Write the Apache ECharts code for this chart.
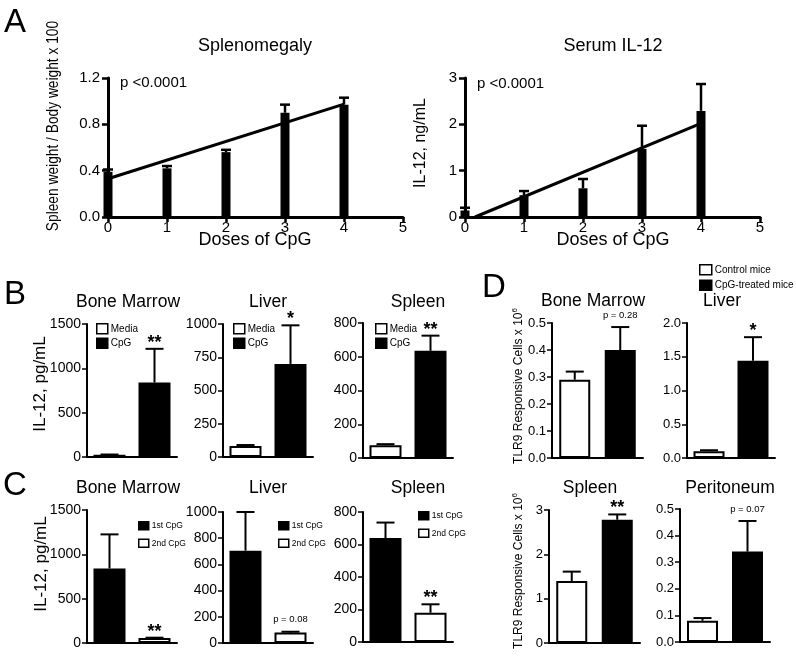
<!DOCTYPE html>
<html><head><meta charset="utf-8">
<script src="https://cdn.jsdelivr.net/npm/echarts@6/dist/echarts.min.js"></script>
<style>html,body{margin:0;padding:0;background:#fff}#c{width:796px;height:660px}</style>
</head><body><div id="c"></div>
<script>
// ---------------- data ----------------
const doses = [0, 1, 2, 3, 4];
const doseTicks = [0, 1, 2, 3, 4, 5];
const splenoMean = [0.39, 0.42, 0.56, 0.90, 0.97];
const splenoErr  = [0.41, 0.44, 0.58, 0.97, 1.03];
const splenoFit  = [[0, 0.33], [4, 0.975]];
const serumMean  = [0.14, 0.47, 0.62, 1.47, 2.29];
const serumErr   = [0.20, 0.56, 0.82, 1.97, 2.87];
const serumFit   = [[0.17, 0], [4, 2.02]];

const bGroups = ['Media', 'CpG'];
const bBoneMarrow = [25, 840],  bBoneMarrowErr = [28, 1220], bBoneMarrowNote = ['', '**'];
const bLiver      = [83, 700],  bLiverErr      = [90, 990],  bLiverNote      = ['', '*'];
const bSpleen     = [75, 635],  bSpleenErr     = [82, 725],  bSpleenNote     = ['', '**'];

const cGroups = ['1st CpG', '2nd CpG'];
const cBoneMarrow = [840, 55],  cBoneMarrowErr = [1225, 60], cBoneMarrowNote = ['', '**'];
const cLiver      = [705, 80],  cLiverErr      = [1000, 86], cLiverNote      = ['', 'p = 0.08'];
const cSpleen     = [640, 180], cSpleenErr     = [735, 232], cSpleenNote     = ['', '**'];

const dGroups = ['Control mice', 'CpG-treated mice'];
const dBoneMarrow = [0.29, 0.40], dBoneMarrowErr = [0.32, 0.485], dBoneMarrowNote = ['', 'p = 0.28'];
const dLiver      = [0.10, 1.44], dLiverErr      = [0.115, 1.79], dLiverNote      = ['', '*'];
const dSpleen     = [1.40, 2.78], dSpleenErr     = [1.61, 2.90],  dSpleenNote     = ['', '**'];
const dPerit      = [0.08, 0.34], dPeritErr      = [0.09, 0.455], dPeritNote      = ['', 'p = 0.07'];

// ---------------- layout / styles ----------------
const FONT = 'Liberation Sans, Arial, Helvetica, sans-serif';
const W = '#ffffff', K = '#000000';

const grid = [], xAxis = [], yAxis = [], series = [], legend = [];

function bigPanel(left, top, max, interval, dec, mean, err, fit) {
  const gi = grid.length;
  grid.push({left: left, top: top, width: 295, height: 139, containLabel: false});
  xAxis.push({gridIndex: gi, type: 'value', min: 0, max: 5, interval: 1,
    axisLine: {onZero: false, lineStyle: {color: K, width: 3}},
    axisTick: {length: 5, lineStyle: {color: K, width: 2.5}},
    axisLabel: {color: K, fontSize: 15, margin: 3, fontFamily: FONT},
    splitLine: {show: false}});
  yAxis.push({gridIndex: gi, type: 'value', min: 0, max: max, interval: interval,
    axisLine: {show: true, onZero: false, lineStyle: {color: K, width: 3}},
    axisTick: {show: true, length: 6, lineStyle: {color: K, width: 2.5}},
    axisLabel: {color: K, fontSize: 15, margin: 8, fontFamily: FONT,
      formatter: v => v.toFixed(dec)},
    splitLine: {show: false}});
  series.push({type: 'custom', xAxisIndex: gi, yAxisIndex: gi, z: 3,
    data: doses.map((d, i) => [d, mean[i], err[i]]),
    encode: {x: 0, y: [1, 2]},
    renderItem: function (params, api) {
      const x = api.value(0);
      const p0 = api.coord([x, 0]);
      const p1 = api.coord([x, api.value(1)]);
      const pe = api.coord([x, api.value(2)]);
      return {type: 'group', children: [
        {type: 'rect', shape: {x: p0[0] - 4.5, y: p1[1], width: 9, height: p0[1] - p1[1]}, style: {fill: K}},
        {type: 'line', shape: {x1: p1[0], y1: p1[1], x2: pe[0], y2: pe[1]}, style: {stroke: K, lineWidth: 2.5}},
        {type: 'line', shape: {x1: pe[0] - 5, y1: pe[1], x2: pe[0] + 5, y2: pe[1]}, style: {stroke: K, lineWidth: 2.5}}
      ]};
    }});
  series.push({type: 'line', xAxisIndex: gi, yAxisIndex: gi, data: fit, z: 4,
    showSymbol: false, symbol: 'none', lineStyle: {color: K, width: 3}});
}

function smallPanel(p) {
  const gi = grid.length;
  grid.push({left: p.left, top: p.top, width: p.width, height: p.height, containLabel: false});
  xAxis.push({gridIndex: gi, type: 'category', data: p.groups, boundaryGap: true,
    axisLine: {lineStyle: {color: K, width: 2}},
    axisTick: {alignWithLabel: true, length: 5, lineStyle: {color: K, width: 1.5}},
    axisLabel: {show: false}});
  yAxis.push({gridIndex: gi, type: 'value', min: 0, max: p.max, interval: p.interval,
    axisLine: {show: true, lineStyle: {color: K, width: 2}},
    axisTick: {show: true, length: 5, lineStyle: {color: K, width: 1.5}},
    axisLabel: {color: K, fontSize: p.fs, margin: 6, fontFamily: FONT,
      formatter: v => v.toFixed(p.dec)},
    splitLine: {show: false}});
  p.groups.forEach((g, i) => {
    series.push({type: 'bar', name: g, xAxisIndex: gi, yAxisIndex: gi,
      data: p.vals.map((v, j) => j === i ? v : '-'),
      barWidth: p.barW, barGap: '-100%',
      itemStyle: {color: p.fills[i], borderColor: K, borderWidth: 2}});
  });
  const notes = p.notes;
  series.push({type: 'custom', xAxisIndex: gi, yAxisIndex: gi, z: 5,
    data: p.vals.map((v, j) => [j, v, p.errs[j]]),
    encode: {x: 0, y: [1, 2]},
    renderItem: function (params, api) {
      const x = api.value(0);
      const p1 = api.coord([x, api.value(1)]);
      const pe = api.coord([x, api.value(2)]);
      const ch = [
        {type: 'line', shape: {x1: p1[0], y1: p1[1], x2: pe[0], y2: pe[1]}, style: {stroke: K, lineWidth: 2}},
        {type: 'line', shape: {x1: pe[0] - 9, y1: pe[1], x2: pe[0] + 9, y2: pe[1]}, style: {stroke: K, lineWidth: 2}}
      ];
      const note = notes[params.dataIndex];
      if (note) {
        const star = note.charAt(0) === '*';
        ch.push({type: 'text', x: pe[0], y: pe[1] - (star ? 6 : 12),
          style: {text: note, fill: K, fontFamily: FONT,
            fontSize: star ? 18 : 9.5, fontWeight: star ? 'bold' : 'normal',
            align: 'center', verticalAlign: 'middle'}});
      }
      return {type: 'group', children: ch};
    }});
  if (p.legend) {
    legend.push({left: p.legend[0], top: p.legend[1], orient: 'vertical', padding: 0,
      itemWidth: p.legW, itemHeight: p.legH, itemGap: p.legGap, selectedMode: false,
      textStyle: {color: K, fontSize: p.legFs, fontFamily: FONT, padding: [0, 0, 0, -2]},
      data: p.groups.map((g, i) => ({name: g, icon: 'rect',
        itemStyle: {color: p.fills[i], borderColor: K, borderWidth: 1.5}}))});
  }
}

bigPanel(108, 78, 1.2, 0.4, 1, splenoMean, splenoErr, splenoFit);
bigPanel(465, 78, 3, 1, 0, serumMean, serumErr, serumFit);

const bFill = [W, K], cFill = [K, W], dFill = [W, K];
const bLeg = {legW: 11, legH: 10, legGap: 3, legFs: 10};
const cLeg = {legW: 10, legH: 8, legGap: 8, legFs: 8.5};

smallPanel(Object.assign({left: 87, top: 324, width: 90, height: 133, max: 1500, interval: 500, dec: 0, fs: 14, barW: 32,
  groups: bGroups, vals: bBoneMarrow, errs: bBoneMarrowErr, notes: bBoneMarrowNote, fills: bFill, legend: [96, 323]}, bLeg));
smallPanel(Object.assign({left: 223, top: 324, width: 90, height: 133, max: 1000, interval: 250, dec: 0, fs: 14, barW: 32,
  groups: bGroups, vals: bLiver, errs: bLiverErr, notes: bLiverNote, fills: bFill, legend: [233, 323]}, bLeg));
smallPanel(Object.assign({left: 363, top: 323, width: 90, height: 135, max: 800, interval: 200, dec: 0, fs: 14, barW: 32,
  groups: bGroups, vals: bSpleen, errs: bSpleenErr, notes: bSpleenNote, fills: bFill, legend: [375, 323]}, bLeg));

smallPanel(Object.assign({left: 87, top: 510, width: 90, height: 133, max: 1500, interval: 500, dec: 0, fs: 14, barW: 32,
  groups: cGroups, vals: cBoneMarrow, errs: cBoneMarrowErr, notes: cBoneMarrowNote, fills: cFill, legend: [138, 521]}, cLeg));
smallPanel(Object.assign({left: 223, top: 512, width: 90, height: 131, max: 1000, interval: 200, dec: 0, fs: 14, barW: 32,
  groups: cGroups, vals: cLiver, errs: cLiverErr, notes: cLiverNote, fills: cFill, legend: [278, 521]}, cLeg));
smallPanel(Object.assign({left: 363, top: 512, width: 90, height: 130, max: 800, interval: 200, dec: 0, fs: 14, barW: 32,
  groups: cGroups, vals: cSpleen, errs: cSpleenErr, notes: cSpleenNote, fills: cFill, legend: [418, 511]}, cLeg));

smallPanel({left: 552, top: 323, width: 91, height: 135, max: 0.5, interval: 0.1, dec: 1, fs: 13, barW: 31,
  groups: dGroups, vals: dBoneMarrow, errs: dBoneMarrowErr, notes: dBoneMarrowNote, fills: dFill,
  legend: [699, 264], legW: 12, legH: 10, legGap: 4, legFs: 10});
smallPanel({left: 687, top: 323, width: 88, height: 135, max: 2, interval: 0.5, dec: 1, fs: 13, barW: 31,
  groups: dGroups, vals: dLiver, errs: dLiverErr, notes: dLiverNote, fills: dFill});
smallPanel({left: 549, top: 510, width: 91, height: 133, max: 3, interval: 1, dec: 0, fs: 13, barW: 31,
  groups: dGroups, vals: dSpleen, errs: dSpleenErr, notes: dSpleenNote, fills: dFill});
smallPanel({left: 680, top: 509, width: 90, height: 133, max: 0.5, interval: 0.1, dec: 1, fs: 13, barW: 31,
  groups: dGroups, vals: dPerit, errs: dPeritErr, notes: dPeritNote, fills: dFill});

// ---------------- static texts ----------------
const texts = [
  {t: 'A', x: 15, y: 23, fs: 33}, {t: 'B', x: 15, y: 295, fs: 33},
  {t: 'C', x: 15, y: 486, fs: 33}, {t: 'D', x: 494, y: 288, fs: 33},
  {t: 'Splenomegaly', x: 255, y: 46, fs: 18}, {t: 'Serum IL-12', x: 613, y: 46, fs: 18},
  {t: 'Doses of CpG', x: 255, y: 240, fs: 18}, {t: 'Doses of CpG', x: 613, y: 240, fs: 18},
  {t: 'p <0.0001', x: 120, y: 83, fs: 15, al: 'left'}, {t: 'p <0.0001', x: 477, y: 84, fs: 15, al: 'left'},
  {t: 'Bone Marrow', x: 128, y: 302, fs: 17.5}, {t: 'Liver', x: 268, y: 302, fs: 17.5}, {t: 'Spleen', x: 418, y: 302, fs: 17.5},
  {t: 'Bone Marrow', x: 128, y: 488, fs: 17.5}, {t: 'Liver', x: 268, y: 488, fs: 17.5}, {t: 'Spleen', x: 418, y: 488, fs: 17.5},
  {t: 'Bone Marrow', x: 593, y: 301, fs: 17.5}, {t: 'Liver', x: 722, y: 301, fs: 17.5},
  {t: 'Spleen', x: 590, y: 488, fs: 17.5}, {t: 'Peritoneum', x: 730, y: 488, fs: 17.5},
  {t: 'Spleen weight / Body weight x 100', x: 54, y: 126, fs: 16, rot: true, sx: 0.86},
  {t: 'IL-12, ng/mL', x: 421, y: 143, fs: 16, rot: true},
  {t: 'IL-12, pg/mL', x: 40, y: 384, fs: 17, rot: true},
  {t: 'IL-12, pg/mL', x: 41, y: 564, fs: 17, rot: true}
];
const graphic = texts.map(o => ({type: 'text', x: o.x, y: o.y,
  rotation: o.rot ? Math.PI / 2 : 0, scaleX: o.sx || 1,
  style: {text: o.t, fill: K, fontSize: o.fs, fontFamily: FONT,
    align: o.al || 'center', verticalAlign: 'middle'}}));
[[518, 386], [518, 571]].forEach(pt => graphic.push({type: 'text', x: pt[0], y: pt[1], rotation: Math.PI / 2,
  style: {text: '{n|TLR9 Responsive Cells x 10}{s|6}', fill: K, fontFamily: FONT, align: 'center', verticalAlign: 'middle',
    rich: {n: {fontSize: 12, fontFamily: FONT, fill: K, lineHeight: 14, verticalAlign: 'bottom'},
           s: {fontSize: 8, fontFamily: FONT, fill: K, lineHeight: 14, verticalAlign: 'top'}}}}));

const chart = echarts.init(document.getElementById('c'), null, {renderer: 'canvas'});
chart.setOption({
  animation: false,
  backgroundColor: '#fff',
  textStyle: {fontFamily: FONT},
  grid: grid, xAxis: xAxis, yAxis: yAxis, series: series, legend: legend, graphic: graphic
});
</script></body></html>
